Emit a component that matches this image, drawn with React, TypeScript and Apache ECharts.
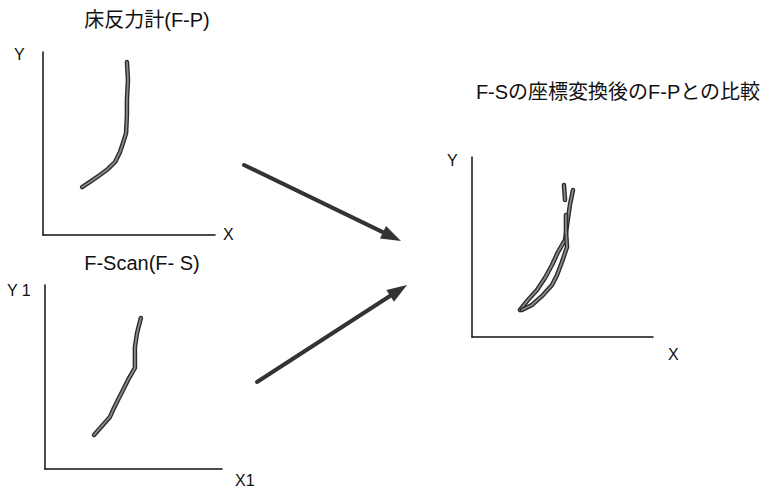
import React, { useEffect, useRef } from "react";
import * as echarts from "echarts";

// Panel titles and axis names
const titles = ["床反力計(F-P)", "F-Scan(F- S)", "F-Sの座標変換後のF-Pとの比較"];
const axisNames = [["X", "Y"], ["X1", "Y 1"], ["X", "Y"]];

// Panel 1: force plate curve (x, y in 0-100 axis units)
const fpX = [22.7, 27.3, 33.1, 37.8, 41.9, 44.8, 46.5, 48.3, 48.8, 48.8, 49.4, 48.8];
const fpY = [26.2, 29.0, 32.8, 36.1, 39.9, 45.4, 50.3, 55.7, 65.6, 73.8, 84.7, 94.5];

// Panel 2: F-Scan curve
const fsX = [27.7, 32.2, 36.7, 39.0, 41.2, 44.1, 46.9, 50.8, 50.8, 50.8, 52.0, 54.2];
const fsY = [18.5, 23.4, 28.3, 33.2, 37.5, 42.9, 48.4, 54.9, 60.9, 66.3, 73.9, 82.1];

// Panel 3: comparison curves
const cmpAX = [26.5, 30.9, 35.9, 40.3, 44.2, 47.5, 51.4, 52.5, 54.1, 55.8];
const cmpAY = [15.0, 20.6, 26.1, 32.8, 40.0, 47.2, 53.9, 62.2, 73.3, 81.7];
const cmpBX = [27.6, 33.1, 39.2, 44.2, 47.0, 49.7, 52.5, 51.9, 51.9];
const cmpBY = [15.0, 17.8, 23.3, 28.9, 34.4, 41.7, 50.0, 59.4, 67.8];
const cmpCX = [51.4, 50.8];
const cmpCY = [76.1, 84.4];

const zip = (xs: number[], ys: number[]) => xs.map((x, i) => [x, ys[i]]);

const FONT = "'Liberation Sans', 'Noto Sans CJK JP', sans-serif";

export default function App() {
  const ref = useRef<HTMLDivElement>(null);
  useEffect(() => {
    if (!ref.current) return;
    const chart = echarts.init(ref.current, undefined, { renderer: "svg" });

    const grids = [
      { left: 43, top: 52, width: 172, height: 183 },
      { left: 45, top: 285, width: 177, height: 184 },
      { left: 472, top: 157, width: 181, height: 180 },
    ];

    const axisCommon = {
      type: "value" as const,
      min: 0,
      max: 100,
      axisLine: { show: true, lineStyle: { color: "#111", width: 1.5 } },
      axisTick: { show: false },
      axisLabel: { show: false },
      splitLine: { show: false },
    };

    const curves: { g: number; d: number[][] }[] = [
      { g: 0, d: zip(fpX, fpY) },
      { g: 1, d: zip(fsX, fsY) },
      { g: 2, d: zip(cmpAX, cmpAY) },
      { g: 2, d: zip(cmpBX, cmpBY) },
      { g: 2, d: zip(cmpCX, cmpCY) },
    ];

    const series: any[] = [];
    curves.forEach((c) => {
      series.push({
        type: "line",
        xAxisIndex: c.g,
        yAxisIndex: c.g,
        data: c.d,
        showSymbol: false,
        lineStyle: { color: "#2a2a2a", width: 4.5, cap: "round", join: "round" },
        silent: true,
      });
      series.push({
        type: "line",
        xAxisIndex: c.g,
        yAxisIndex: c.g,
        data: c.d,
        showSymbol: false,
        lineStyle: { color: "#8a8a8a", width: 1.8, cap: "round", join: "round" },
        silent: true,
      });
    });

    const arrow = (x1: number, y1: number, x2: number, y2: number) => {
      const dx = x2 - x1, dy = y2 - y1;
      const len = Math.sqrt(dx * dx + dy * dy);
      const ux = dx / len, uy = dy / len;
      const hl = 20, hw = 7;
      const bx = x2 - ux * hl, by = y2 - uy * hl;
      return [
        {
          type: "line",
          shape: { x1, y1, x2: bx + ux * 2, y2: by + uy * 2 },
          style: { stroke: "#333", lineWidth: 4, lineCap: "round" },
        },
        {
          type: "polygon",
          shape: {
            points: [
              [x2, y2],
              [bx - uy * hw, by + ux * hw],
              [bx + uy * hw, by - ux * hw],
            ],
          },
          style: { fill: "#333" },
        },
      ];
    };

    const text = (t: string, x: number, y: number, size: number, align = "left") => ({
      type: "text",
      x,
      y,
      style: {
        text: t,
        fontSize: size,
        fontFamily: FONT,
        fill: "#111",
        align,
        verticalAlign: "middle",
      },
    });

    chart.setOption({
      animation: false,
      backgroundColor: "#fff",
      grid: grids,
      xAxis: grids.map((_, i) => ({ ...axisCommon, gridIndex: i })),
      yAxis: grids.map((_, i) => ({ ...axisCommon, gridIndex: i })),
      series,
      graphic: [
        text(titles[0], 147, 20, 20, "center"),
        text(titles[1], 142, 263, 20, "center"),
        text(titles[2], 618, 92, 20, "center"),
        text(axisNames[0][1], 14, 54, 16),
        text(axisNames[0][0], 223, 234, 16),
        text(axisNames[1][1], 7, 290, 16),
        text(axisNames[1][0], 235, 480, 16),
        text(axisNames[2][1], 447, 160, 16),
        text(axisNames[2][0], 668, 354, 16),
        ...arrow(244, 165, 401, 241),
        ...arrow(257, 382, 407, 285),
      ],
    });
    return () => chart.dispose();
  }, []);
  return (
    <div
      ref={ref}
      style={{ position: "fixed", left: 0, top: 0, width: 768, height: 487, background: "#fff" }}
    />
  );
}
